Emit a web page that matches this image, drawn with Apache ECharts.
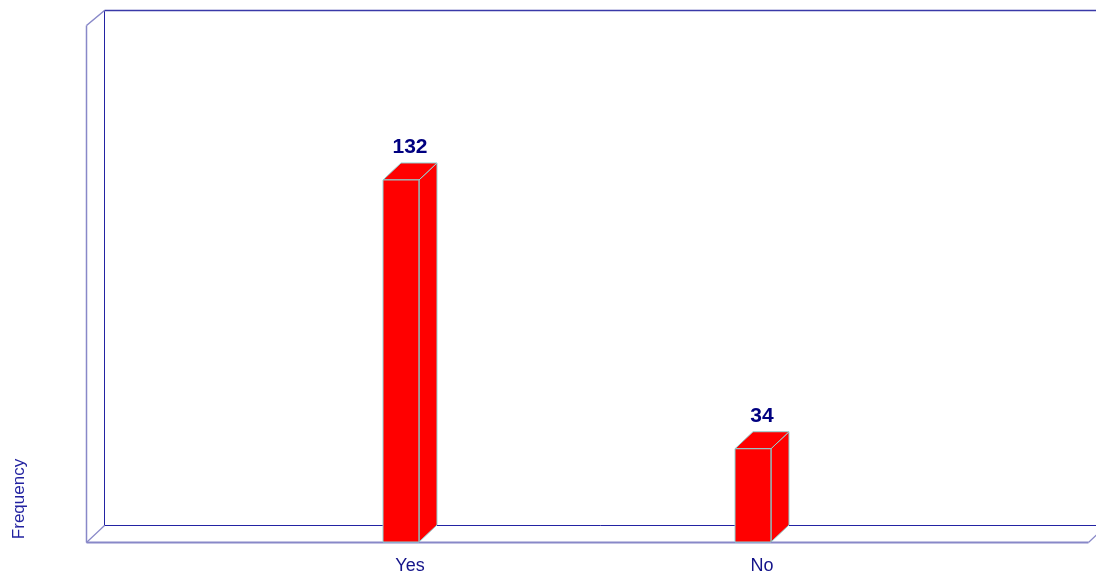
<!DOCTYPE html>
<html>
<head>
<meta charset="utf-8">
<script src="https://cdn.jsdelivr.net/npm/echarts@6/dist/echarts.min.js"></script>
<style>html,body{margin:0;padding:0;background:#fff;}#c{width:1096px;height:575px;}</style>
</head>
<body>
<div id="c"></div>
<script>
const categories = ['Yes', 'No'];
const frequency = [132, 34];
const yAxisTitle = 'Frequency';

const DX = 18, DY = -17;
const FONT = '"Liberation Sans", Arial, sans-serif';
const chart = echarts.init(document.getElementById('c'), null, {renderer: 'canvas'});

function frameItem(params, api) {
  const r = params.coordSys;
  const L = r.x, T = r.y, R = r.x + r.width, B = r.y + r.height;
  const back = '#2323a3', front = '#8888c8';
  const h = 0.5;
  const line = (x1, y1, x2, y2, c, w) => ({type: 'line', shape: {x1: x1 + h, y1: y1 + h, x2: x2 + h, y2: y2 + h}, style: {stroke: c, lineWidth: w}});
  const backTop = T + DY + 2;
  return {type: 'group', children: [
    line(L + DX, backTop, R + DX + 20, backTop, '#3a3aa8', 1.4),
    line(L + DX, backTop, L + DX, B + DY, back, 1),
    line(L + DX, B + DY, R + DX + 20, B + DY, back, 1),
    line(L, T, L + DX, backTop, front, 1.5),
    line(L, T, L, B, front, 1.5),
    line(L, B, R, B, front, 2),
    line(L, B, L + DX, B + DY, front, 1.2),
    line(R, B, R + DX, B + DY, front, 1.2)
  ]};
}

function barItem(params, api) {
  const base = api.coord([api.value(0), 0]);
  const top = api.coord([api.value(0), api.value(1)]);
  const cx = base[0];
  const w = 36;
  const x0 = cx - 27, x1 = x0 + w;
  const yt = top[1], yb = base[1];
  const edge = '#8fd6d6';
  return {type: 'group', children: [
    {type: 'polygon', shape: {points: [[x1, yt], [x1 + DX, yt + DY], [x1 + DX, yb + DY], [x1, yb]]},
      style: {fill: '#ff0000', stroke: edge, lineWidth: 1}},
    {type: 'polygon', shape: {points: [[x0, yt], [x0 + DX, yt + DY], [x1 + DX, yt + DY], [x1, yt]]},
      style: {fill: '#ff0000', stroke: edge, lineWidth: 1}},
    {type: 'rect', shape: {x: x0, y: yt, width: w, height: yb - yt},
      style: {fill: '#ff0000', stroke: edge, lineWidth: 1}},
    {type: 'line', shape: {x1: x1, y1: yt, x2: x1, y2: yb}, style: {stroke: '#9a9a9a', lineWidth: 1}},
    {type: 'text', style: {x: cx, y: yt + DY - 16, text: String(api.value(1)), align: 'center', verticalAlign: 'middle',
      fill: '#000080', font: 'bold 21px ' + FONT}}
  ]};
}

const YMAX = 188.5;
chart.setOption({
  animation: false,
  backgroundColor: '#ffffff',
  grid: [
    {left: 86, top: 25, width: 1002, height: 517},
    {left: 234, top: 25, width: 704, height: 517}
  ],
  xAxis: [
    {gridIndex: 0, type: 'value', min: 0, max: 1, show: false},
    {gridIndex: 1, type: 'category', data: categories,
      axisLine: {show: false}, axisTick: {show: false}, splitLine: {show: false},
      axisLabel: {color: '#14148a', fontSize: 18, fontFamily: FONT, margin: 15}}
  ],
  yAxis: [
    {gridIndex: 0, type: 'value', min: 0, max: YMAX, show: false},
    {gridIndex: 1, type: 'value', min: 0, max: YMAX, show: false}
  ],
  graphic: [
    {type: 'text', x: 19, y: 499, rotation: Math.PI / 2,
      style: {text: yAxisTitle, align: 'center', verticalAlign: 'middle', fill: '#2222a0', font: '17px ' + FONT}}
  ],
  series: [
    {type: 'custom', xAxisIndex: 0, yAxisIndex: 0, data: [[0, 0]], renderItem: frameItem, clip: false, silent: true, z: 1},
    {type: 'custom', xAxisIndex: 1, yAxisIndex: 1, data: frequency.map((v, i) => [i, v]), renderItem: barItem, clip: false, z: 2}
  ]
});
</script>
</body>
</html>
